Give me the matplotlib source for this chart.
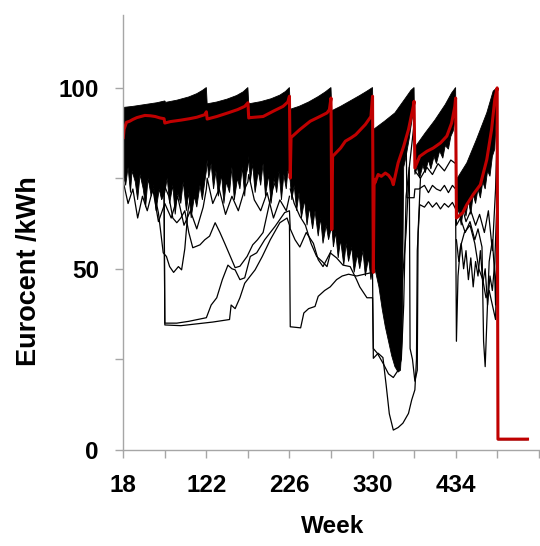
import matplotlib.pyplot as plt
import numpy as np

# ---- axis text ----
x_tick_pos = [18, 70, 122, 174, 226, 278, 330, 382, 434, 486, 538]
x_tick_lab = ['18', '', '122', '', '226', '', '330', '', '434', '', '']
y_tick_pos = [0, 25, 50, 75, 100]
y_tick_lab = ['0', '', '50', '', '100']

# ---- dense scenario bundle: upper / lower edge (week, eurocent) ----
band_up_wk = [18, 30, 45, 60, 70, 71, 85, 100, 110, 117, 122,
              123, 135, 148, 160, 168, 174,
              175, 190, 203, 214, 221, 226,
              227, 238, 250, 262, 271, 278,
              279, 290, 302, 314, 323, 330,
              331, 345, 358, 370, 378, 382,
              383, 396, 408, 421, 429, 434,
              435, 448, 460, 473, 481, 486,
              487, 524]
band_up = [94.5, 94.8, 95.3, 95.8, 96.3, 95.9, 96.5, 97.4, 98.3, 99.2, 100,
           95.5, 96.0, 96.8, 97.8, 98.8, 100,
           95.5, 96.1, 96.9, 97.9, 98.9, 100,
           94.0, 94.8, 96.0, 97.5, 98.8, 100,
           93.6, 94.8, 96.3, 97.8, 99.0, 100,
           88.4, 90.7, 93.0, 96.7, 99.2, 100,
           83.5, 87.5, 91.0, 95.3, 98.5, 100,
           74.6, 79.2, 85.6, 93.0, 99.0, 100,
           3.2, 3.2]

band_lo_wk = [18, 21, 24, 27, 29, 33, 36, 39, 43, 46, 49, 53, 56, 59, 63, 66, 70,
              73, 76, 80, 83, 86, 90, 93, 97, 100, 103, 107, 110, 114, 117, 120, 122,
              123, 125, 128, 131, 134, 137, 141, 144, 147, 151, 154, 157, 161, 164,
              167, 170, 172, 174,
              175, 177, 180, 183, 187, 190, 193, 196, 200, 203, 207, 210, 213, 216,
              219, 222, 224, 226,
              227, 229, 232, 235, 238, 241, 245, 248, 251, 255, 258, 262, 265, 268,
              272, 275, 278,
              279, 281, 284, 287, 290, 294, 297, 300, 304, 307, 311, 314, 318, 321,
              325, 328, 330,
              331, 334, 338, 342, 346, 350, 354, 358, 362, 365, 367, 368, 369, 372,
              376, 380, 382,
              383, 386, 389, 393, 396, 400, 403, 407, 410, 414, 418, 421, 425, 428,
              431, 434,
              435, 438, 441, 444, 447, 450, 453, 456, 459, 462, 465, 468, 471, 474,
              477, 480, 483, 486,
              487, 524]
band_lo = [76, 73, 78, 71, 77, 74, 69, 76, 72, 67, 75, 70, 73, 66, 72, 69, 71,
           75, 68, 73, 65, 71, 68, 74, 66, 71, 64, 70, 67, 73, 69, 74, 77,
           80, 75, 79, 72, 77, 70, 76, 68, 74, 71, 78, 69, 75, 72,
           78, 70, 76, 78,
           81, 74, 79, 71, 77, 73, 79, 70, 76, 68, 75, 71, 77, 69,
           76, 72, 77, 76,
           74, 69, 73, 66, 71, 64, 69, 62, 67, 61, 66, 59, 64, 57,
           62, 58, 61,
           62, 56, 60, 53, 58, 51, 57, 52, 56, 49, 54, 50, 55, 48,
           53, 47, 50,
           52, 49, 45, 39, 34, 30, 26, 23, 21.5, 22, 30, 52, 78, 81,
           86, 92, 96,
           76, 78, 75, 78.5, 76.5, 80, 77.5, 81, 79, 82.5, 80.5, 84, 83, 86.5,
           88, 92,
           63.5, 66.5, 62, 67, 64.5, 69, 65, 70.5, 68, 72, 69.5, 74, 72, 77,
           75.5, 81, 83, 97,
           2.8, 2.8]

# ---- individual outlying scenarios ----
sc_a_wk = [18, 26, 34, 42, 50, 58, 64, 69, 70, 85, 100, 122, 128, 135, 142, 149,
           154, 158, 164, 170, 177, 185, 195, 208, 220, 226,
           227, 233, 239, 247, 256, 262, 268, 277, 285, 293, 302, 310, 314, 323, 330,
           331, 336, 343, 350, 356, 362, 366, 369, 372, 378, 382]
sc_a = [81, 78, 80, 76, 77, 74, 75, 73, 35, 35, 35.5, 36.5, 40, 42, 47, 51,
        50, 49.7, 47, 47.5, 53.4, 54.4, 58, 61.7, 65.5, 66,
        61, 58, 56, 60, 57, 52.5, 50.6, 54.4, 53, 51, 50.6, 47, 45, 42, 42,
        28, 26.7, 24, 21, 20, 22, 25, 40, 70, 82, 90]

sc_b_wk = [18, 26, 34, 42, 50, 58, 64, 69, 70, 90, 110, 130, 151, 153, 158, 164,
           170, 177, 183, 192, 202, 214, 223, 226,
           227, 240, 244, 250, 258, 262, 270, 277, 285, 292, 300, 310, 320, 330,
           331, 337, 343, 347, 351, 356, 362, 368, 375, 379, 383, 385, 386,
           389, 395, 400, 405, 410, 415, 420, 425, 430, 434,
           435, 437, 440, 445, 452, 458, 463, 468, 472, 476, 480, 484, 486]
sc_b = [79, 82, 77, 79, 75, 77, 74, 75, 34.5, 34.3, 34.8, 35.3, 36, 40, 39, 42,
        46, 48, 49.7, 53.4, 58, 62.7, 64, 62,
        34, 33.7, 37.8, 39, 39.6, 42.4, 44, 45, 47, 48, 48.5, 48, 48.5, 49,
        25.3, 26.7, 25.5, 18, 10, 5.5, 6.2, 7.4, 10.1, 13.8, 16.6, 25, 55,
        67.7, 67, 68.5, 67, 68.2, 66.5, 68, 67, 68.3, 66.5,
        30, 48, 56, 60, 62, 57, 50, 47, 42, 44, 40, 36, 55]

sc_c_wk = [18, 30, 40, 50, 56, 62, 68, 72, 76, 81, 87, 91, 95, 99, 104, 110, 122]
sc_c = [84, 80, 78, 74, 71.8, 65.4, 54.4, 53.4, 50.6, 49, 50.6, 49.7, 55.5, 66, 72, 76, 82]

sc_d_wk = [18, 40, 60, 75, 80, 85, 90, 95, 100, 105, 114, 120, 126, 133, 139, 145,
           152, 158, 164, 173, 180, 186, 193, 199, 205, 212, 220, 226]
sc_d = [86, 82, 78, 70, 64, 62.7, 64, 66, 60, 55.8, 56.6, 58, 59, 62.7, 60, 57,
        53.4, 50.3, 50.7, 53.4, 56.6, 58, 60, 66, 72, 76, 79, 82]

sc_e_wk = [227, 232, 239, 246, 253, 260, 267, 273, 278]
sc_e = [72, 68, 64.5, 62, 57, 53.4, 52, 50.6, 55]

sc_f_wk = [362, 366, 372, 373, 382, 383, 388, 395, 400, 405, 410, 415, 420, 425,
           430, 434, 435, 440, 446, 452, 458, 462, 467, 469, 471, 473, 476, 480,
           483, 484, 486]
sc_f = [86, 87.5, 87.5, 69.6, 69.6, 72, 72, 73, 71, 73, 72, 71.5, 73, 71,
        73, 72, 62, 64, 60, 63, 58, 61, 56, 30, 23, 35, 52, 58,
        48, 40, 65]

sc_g_wk = [383, 390, 398, 405, 412, 420, 428, 434, 435, 441, 447, 453, 459, 464,
           470, 475, 480, 484, 486]
sc_g = [77, 75, 78, 76, 79, 77, 80, 79, 66, 68, 63, 66, 62, 65,
        60, 66, 55, 72, 88]

sc_h_wk = [331, 340, 350, 358, 365, 372, 376, 377, 380, 383, 386, 387, 390]
sc_h = [60, 50, 42, 35, 40, 60, 78, 28, 25, 19, 22, 60, 75]

sc_i_wk = [435, 438, 441, 444, 447, 450, 453, 456, 459, 462, 465, 468, 471, 474,
           477, 480, 483, 486]
sc_i = [58, 52, 57, 50, 55, 47, 53, 45, 52, 48, 55, 46, 50, 40, 48, 44, 52, 70]

sc_j_wk = [18, 24, 30, 36, 42, 48, 55, 62, 70, 78, 86, 94, 102, 110, 118, 122,
           123, 130, 138, 146, 154, 162, 170, 174,
           175, 182, 190, 198, 206, 214, 222, 226]
sc_j = [74, 68, 72, 64, 70, 66, 72, 63, 68, 64, 70, 62, 66, 61, 67, 72,
        75, 68, 72, 65, 70, 66, 72, 74,
        76, 69, 66, 71, 64, 69, 66, 70]

# ---- mean price (red) ----
mean_wk = [18, 19, 22, 26, 30, 35, 45, 52, 58, 64, 69, 70, 77, 90, 101, 110, 120, 122,
           123, 135, 149, 161, 170, 174, 175, 177, 193, 206, 218, 224, 226,
           227, 228, 239, 252, 264, 273, 276, 278, 279, 280, 290, 296, 303, 309,
           315, 321, 328, 330, 331, 332, 333, 337, 341, 346, 350, 354, 356, 362,
           369, 375, 381, 382, 383, 389, 398, 406, 415, 423, 429, 433, 434,
           435, 443, 448, 456, 465, 473, 479, 483, 486, 487, 524]
mean_val = [86.2, 88.5, 90.4, 90.7, 91.2, 91.7, 92.3, 92.2, 92.0, 91.6, 91.4, 90.2,
            90.6, 91.0, 91.4, 91.8, 92.5, 93.3,
            91.3, 92.0, 93.0, 93.9, 94.8, 95.8, 91.6, 91.7, 92.0, 93.5, 94.8, 96.0, 97.6,
            75.0, 86.2, 88.4, 90.7, 92.0, 93.0, 93.9, 97.1, 60.8, 81.0, 83.3, 85.2,
            86.1, 87.0, 88.4, 89.8, 92.0, 97.6, 49.0, 74.6, 73.7, 76.0, 75.5, 76.4,
            75.8, 74.6, 73.2, 79.2, 83.8, 88.4, 94.8, 96.2, 77.8, 81.0, 82.4, 83.3,
            84.7, 86.6, 90.2, 94.8, 97.1, 64.0, 65.5, 67.7, 70.5, 73.2, 80.1, 88.4,
            96.7, 99.9, 3.0, 3.0]

plt.rcParams['font.family'] = ['Liberation Sans', 'DejaVu Sans']
plt.rcParams['font.weight'] = 'bold'

fig = plt.figure(figsize=(5.4, 5.46), dpi=100)
ax = fig.add_axes([0.2283, 0.1758, 0.7693, 0.7967])

# bundle of scenarios
ax.fill(np.r_[band_up_wk, band_lo_wk[::-1]], np.r_[band_up, band_lo[::-1]],
        facecolor='black', edgecolor='black', lw=0.6)

for wk, val in [(sc_a_wk, sc_a), (sc_b_wk, sc_b), (sc_c_wk, sc_c),
                (sc_d_wk, sc_d), (sc_e_wk, sc_e), (sc_f_wk, sc_f),
                (sc_g_wk, sc_g), (sc_h_wk, sc_h), (sc_i_wk, sc_i),
                (sc_j_wk, sc_j)]:
    ax.plot(wk, val, color='black', lw=0.9)

ax.plot(mean_wk, mean_val, color='#c00000', lw=2.2)

ax.set_xlim(18, 538)
ax.set_ylim(0, 120)
ax.set_xticks(x_tick_pos)
ax.set_xticklabels(x_tick_lab)
ax.set_yticks(y_tick_pos)
ax.set_yticklabels(y_tick_lab)

for side in ['top', 'right']:
    ax.spines[side].set_visible(False)
for side in ['left', 'bottom']:
    ax.spines[side].set_color('#a6a6a6')
    ax.spines[side].set_linewidth(1.0)
ax.tick_params(direction='out', length=6, width=1, color='#a6a6a6',
               labelsize=17.5)
ax.tick_params(axis='y', pad=11.5)
ax.tick_params(axis='x', pad=11)

ax.set_xlabel('Week', fontsize=17.5, fontweight='bold')
ax.set_ylabel('Eurocent /kWh', fontsize=19.5, fontweight='bold')
ax.xaxis.set_label_coords(0.505, -0.150)
ax.yaxis.set_label_coords(-0.196, 0.412)

plt.savefig('out.png', dpi=100)
plt.close()
